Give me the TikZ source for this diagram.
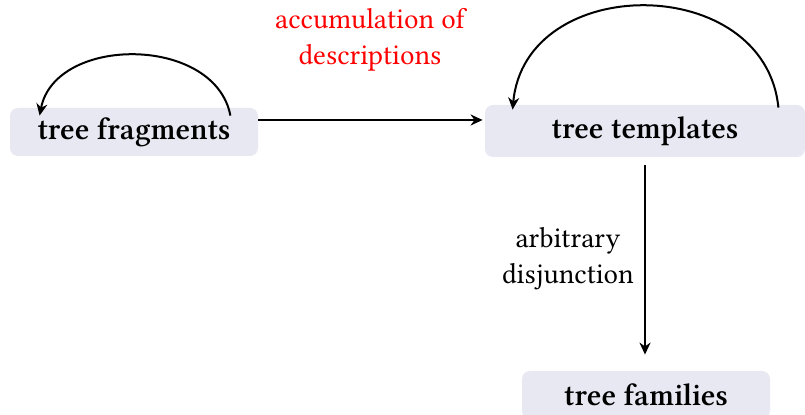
\documentclass[tikz,border=0pt]{standalone}
\usepackage{fontspec}
\setmainfont{Libertinus Serif}
\usetikzlibrary{arrows.meta,calc}
\definecolor{boxfill}{RGB}{232,232,242}
\tikzset{
  box/.style={fill=boxfill, rounded corners=4pt, font=\fontsize{15.6}{18}\selectfont\bfseries, inner sep=0pt},
  conn/.style={line width=1pt, -{Stealth[length=6pt,width=5.5pt]}},
  lbl/.style={align=center, font=\fontsize{14.4}{18}\selectfont, inner sep=0pt}
}
\begin{document}
\begin{tikzpicture}[x=0.5pt,y=-0.5pt]
\useasboundingbox (0,0) rectangle (805,415);
\node[box, minimum width=124pt, minimum height=24pt] (frag) at (134,132) {tree fragments};
\node[box, minimum width=160pt, minimum height=26pt] (tmpl) at (645,131) {tree templates};
\node[box, minimum width=124pt, minimum height=24pt] (fam) at (646,395) {tree families};
\node[lbl, text=red] (acc) at (370,40) {accumulation of\\descriptions};
\node[lbl] (arb) at (568,259) {arbitrary\\disjunction};
\coordinate (fs) at ($(frag.north east)+(-28,8)$);
\coordinate (fe) at ($(frag.north west)+(30,8)$);
\coordinate (ts) at ($(tmpl.north east)+(-27,3)$);
\coordinate (te) at ($(tmpl.north west)+(28,5)$);
\draw[conn] (fs) .. controls (215,35) and (55,35) .. (fe);
\draw[conn] (ts) .. controls (765,-28) and (525,-28) .. (te);
\draw[conn] ($(frag.east)+(0,-12)$) -- ($(tmpl.west)+(-2,-11)$);
\draw[conn, shorten <=4pt, shorten >=8pt] (tmpl.south) -- (tmpl.south |- fam.north);
\end{tikzpicture}
\end{document}
